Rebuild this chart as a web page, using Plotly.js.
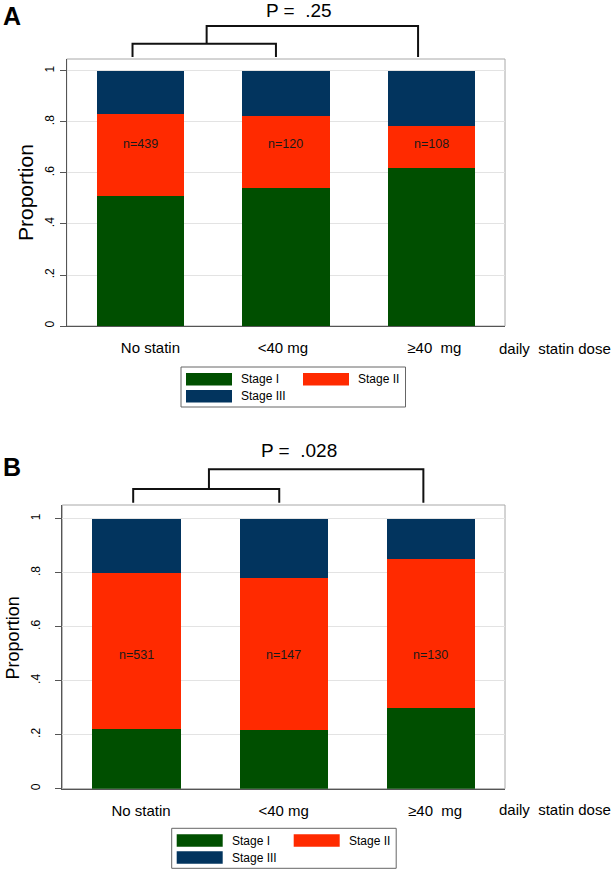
<!DOCTYPE html>
<html><head><meta charset="utf-8">
<script src="https://cdn.plot.ly/plotly-3.0.1.min.js"></script>
<style>html,body{margin:0;padding:0;background:#fff}#chart{width:611px;height:870px}</style>
</head><body><div id="chart"></div>
<script>
// ---- data ----
const categories = ['No statin', '<40 mg', '\u226540\u00a0 mg'];
const stageNames = ['Stage I', 'Stage II', 'Stage III'];
const stageColors = ['#004f00', '#ff2a00', '#02345e'];
const xAxisLabel = 'daily\u00a0 statin dose';
const yAxisLabel = 'Proportion';
const yTickVals = [0, 0.2, 0.4, 0.6, 0.8, 1];
const yTickText = ['0', '.2', '.4', '.6', '.8', '1'];

const panelA_stage1 = [0.511, 0.540, 0.618];
const panelA_stage2 = [0.320, 0.284, 0.168];
const panelA_stage3 = [0.169, 0.176, 0.214];
const panelA_n = [439, 120, 108];
const panelA_p = '.25';

const panelB_stage1 = [0.221, 0.217, 0.300];
const panelB_stage2 = [0.579, 0.563, 0.552];
const panelB_stage3 = [0.200, 0.220, 0.148];
const panelB_n = [531, 147, 130];
const panelB_p = '.028';

// ---- layout helpers (pixel -> paper) ----
const W = 611, H = 870;
const px = x => x / W;
const py = y => 1 - y / H;
const FONT = 'Liberation Sans, Arial, Helvetica, sans-serif';

const panels = [
  {letter: 'A', s1: panelA_stage1, s2: panelA_stage2, s3: panelA_stage3, n: panelA_n, p: panelA_p,
   ax: '', left: 66.7, right: 505, top: 59, bottom: 326, yTop: 1.047, nY: 0.715,
   tickPos: [0.07, 0.98, 2.02], ytStand: 1, ytSize: 21, ytX: 26, ytY: 193,
   pY: 10.5, letterY: 16, lgX: 181, lgY: 367, doseY: 348,
   brInner: [-0.053, 0.932], brOuter: [0.456, 1.908], brY: [26, 43.7, 57]},
  {letter: 'B', s1: panelB_stage1, s2: panelB_stage2, s3: panelB_stage3, n: panelB_n, p: panelB_p,
   ax: '2', left: 62.3, right: 505, top: 505, bottom: 788.7, yTop: 1.051, nY: 0.495,
   tickPos: [0.03, 1.0, 2.03], ytStand: 11, ytSize: 18, ytX: 12.7, ytY: 637.7,
   pY: 450, letterY: 467, lgX: 171.7, lgY: 828.3, doseY: 809,
   brInner: [-0.023, 0.970], brOuter: [0.492, 1.950], brY: [469.3, 489, 502.7]}
];

const traces = [];
const shapes = [];
const annotations = [];
const layout = {
  width: W, height: H, margin: {l: 0, r: 0, t: 0, b: 0},
  paper_bgcolor: '#fff', plot_bgcolor: '#fff',
  barmode: 'stack', showlegend: false,
  font: {family: FONT, color: '#000'},
  shapes: shapes, annotations: annotations
};

const idx = categories.map((c, i) => i);

panels.forEach(P => {
  const xa = 'x' + P.ax, ya = 'y' + P.ax;
  [P.s1, P.s2, P.s3].forEach((vals, k) => {
    traces.push({type: 'bar', x: idx, y: vals, width: 0.6, name: stageNames[k],
      marker: {color: stageColors[k], line: {width: 0}},
      xaxis: xa, yaxis: ya, hoverinfo: 'skip'});
  });
  layout['xaxis' + P.ax] = {
    domain: [px(P.left), px(P.right)], anchor: ya, range: [-0.505, 2.505],
    tickvals: P.tickPos, ticktext: categories, ticks: '', showgrid: false, zeroline: false,
    showline: true, linecolor: '#555', linewidth: 1, ticklabelstandoff: 8,
    tickfont: {family: FONT, size: 15, color: '#000'}, fixedrange: true
  };
  layout['yaxis' + P.ax] = {
    domain: [py(P.bottom), py(P.top)], anchor: xa, range: [0, P.yTop],
    tickvals: yTickVals, ticktext: yTickText, tickangle: -90,
    ticks: 'outside', ticklen: 6, tickcolor: '#555', tickwidth: 1,
    showgrid: true, gridcolor: '#e3e3e3', gridwidth: 1, zeroline: false,
    showline: true, linecolor: '#555', linewidth: 1, ticklabelstandoff: P.ytStand,
    tickfont: {family: FONT, size: 12, color: '#000'}, fixedrange: true
  };
  // plot frame
  shapes.push({type: 'rect', xref: 'paper', yref: 'paper', x0: px(P.left), x1: px(P.right),
    y0: py(P.bottom), y1: py(P.top), line: {color: '#a8a8a8', width: 1}, layer: 'below'});
  // brackets
  const bl = {color: '#111', width: 2};
  const [yo, yi, ye] = P.brY.map(py);
  shapes.push({type: 'path', xref: xa, yref: 'paper', line: bl,
    path: `M ${P.brInner[0]} ${ye} L ${P.brInner[0]} ${yi} L ${P.brInner[1]} ${yi} L ${P.brInner[1]} ${ye}`});
  shapes.push({type: 'path', xref: xa, yref: 'paper', line: bl,
    path: `M ${P.brOuter[0]} ${yi} L ${P.brOuter[0]} ${yo} L ${P.brOuter[1]} ${yo} L ${P.brOuter[1]} ${ye}`});
  // P value
  annotations.push({xref: 'paper', yref: 'paper', x: px(298.5), y: py(P.pY), xanchor: 'center', yanchor: 'middle',
    text: 'P = \u00a0' + P.p, showarrow: false, font: {family: FONT, size: 19, color: '#000'}});
  // panel letter
  annotations.push({xref: 'paper', yref: 'paper', x: px(1), y: py(P.letterY), xanchor: 'left', yanchor: 'middle',
    text: '<b>' + P.letter + '</b>', showarrow: false, font: {family: FONT, size: 25, color: '#000'}});
  // y title
  annotations.push({xref: 'paper', yref: 'paper', x: px(P.ytX), y: py(P.ytY), xanchor: 'center', yanchor: 'middle',
    text: yAxisLabel, textangle: -90, showarrow: false, font: {family: FONT, size: P.ytSize, color: '#000'}});
  // x axis label at right
  annotations.push({xref: 'paper', yref: 'paper', x: px(497), y: py(P.doseY), xanchor: 'left', yanchor: 'middle',
    text: xAxisLabel, showarrow: false, font: {family: FONT, size: 15, color: '#000'}});
  // n labels
  P.n.forEach((nv, i) => {
    annotations.push({xref: xa, yref: ya, x: i, y: P.nY, xanchor: 'center', yanchor: 'middle',
      text: 'n=' + nv, showarrow: false, font: {family: FONT, size: 12.5, color: '#1a1a1a'}});
  });
  // legend (drawn)
  const lx = P.lgX, ly = P.lgY;
  shapes.push({type: 'rect', xref: 'paper', yref: 'paper', x0: px(lx), x1: px(lx + 224.5),
    y0: py(ly + 40), y1: py(ly), line: {color: '#666', width: 1}});
  const entries = [[0, 5, 6, 72], [1, 122, 6, 176], [2, 5, 23, 58]];
  entries.forEach(([k, sx, sy, tx]) => {
    shapes.push({type: 'rect', xref: 'paper', yref: 'paper', x0: px(lx + sx), x1: px(lx + sx + 46),
      y0: py(ly + sy + 12.5), y1: py(ly + sy), fillcolor: stageColors[k], line: {width: 0}});
    annotations.push({xref: 'paper', yref: 'paper', x: px(lx + sx + 53), y: py(ly + sy + 6.3),
      xanchor: 'left', yanchor: 'middle', text: stageNames[k], showarrow: false,
      font: {family: FONT, size: 12, color: '#000'}});
  });
});

Plotly.newPlot('chart', traces, layout, {staticPlot: true, displayModeBar: false});
</script>
</body></html>
